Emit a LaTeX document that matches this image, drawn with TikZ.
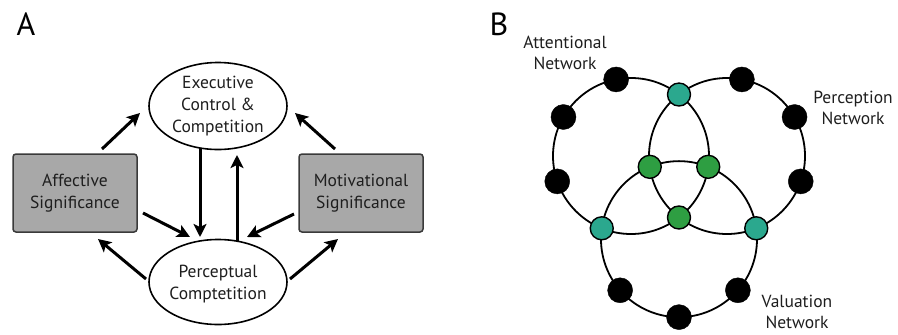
\documentclass[tikz,border=0pt]{standalone}
\usepackage{fontspec}
\setmainfont{PT Sans}
\usetikzlibrary{arrows.meta,calc,shapes.geometric}
\definecolor{boxgray}{HTML}{A8A8A8}
\definecolor{boxline}{HTML}{3A3A3A}
\definecolor{tealdot}{HTML}{2BA88E}
\definecolor{greendot}{HTML}{2E9E42}
\definecolor{txt}{HTML}{1E1E1E}
\tikzset{
  lbl/.style={align=center,font=\fontsize{17.5}{22}\selectfont,inner sep=0pt,text=txt},
  ell/.style={ellipse,draw,line width=1.6pt,fill=white,minimum width=138pt,inner sep=0pt},
  gbox/.style={draw=boxline,fill=boxgray,rounded corners=3pt,line width=1.5pt,minimum width=124pt,minimum height=78pt,inner sep=0pt,align=center,text=txt,font=\fontsize{17.5}{21.5}\selectfont},
  arr/.style={line width=3pt,-{Stealth[length=13pt,width=13pt,inset=3pt]}},
  ring/.style={line width=1.8pt},
  bdot/.style={circle,fill=black,draw=black,minimum size=25pt,inner sep=0pt},
  tdot/.style={circle,fill=tealdot,draw=black,line width=1.4pt,minimum size=23pt,inner sep=0pt},
  gdot/.style={circle,fill=greendot,draw=black,line width=1.4pt,minimum size=23pt,inner sep=0pt},
  panel/.style={font=\fontsize{32}{32}\selectfont,inner sep=0pt}
}
\begin{document}
\begin{tikzpicture}[x=1pt,y=-1pt]
\useasboundingbox (0,0) rectangle (898,335);
% ---------- Panel A ----------
\node[panel] (labA) at (26,24) {A};
\node[ell,minimum height=87pt] (exec) at (218,106) {};
\node[lbl] (exectxt) at (218,106) {Executive\\Control \&\\Competition};
\node[ell,minimum height=85pt] (perc) at (218,282) {};
\node[lbl] (perctxt) at (218,284) {Perceptual\\Comptetition};
\node[gbox] (aff) at (75,193) {Affective\\Significance};
\node[gbox] (mot) at (361,193) {Motivational\\Significance};
\coordinate (a1s) at (102,149); \coordinate (a1e) at (140,113);
\coordinate (a2s) at (335,149); \coordinate (a2e) at (295,113);
\coordinate (a3s) at (200,148); \coordinate (a3e) at (200,237);
\coordinate (a4s) at (237,242); \coordinate (a4e) at (237,155);
\coordinate (a5s) at (143,213); \coordinate (a5e) at (190,237);
\coordinate (a6s) at (294,214); \coordinate (a6e) at (247,237);
\coordinate (a7s) at (146,279); \coordinate (a7e) at (98,239);
\coordinate (a8s) at (290,279); \coordinate (a8e) at (338,239);
\foreach \i in {1,...,8} {\draw[arr] (a\i s) -- (a\i e);}
% ---------- Panel B ----------
\node[panel] (labB) at (499,24) {B};
\coordinate (cA) at (631,156);
\coordinate (cP) at (727,156);
\coordinate (cV) at (679,239.14);
\draw[ring] (cA) circle[radius=78];
\draw[ring] (cP) circle[radius=78];
\draw[ring] (cV) circle[radius=78];
% outer intersections (teal)
\node[tdot] (tAP) at ($(cA)+(-52.03:78)$) {};
\node[tdot] (tAV) at ($(cA)+(-247.97:78)$) {};
\node[tdot] (tPV) at ($(cP)+(67.97:78)$) {};
% inner intersections (green)
\node[gdot] (gAP) at ($(cA)+(52.03:78)$) {};
\node[gdot] (gAV) at ($(cA)+(7.97:78)$) {};
\node[gdot] (gPV) at ($(cP)+(172.03:78)$) {};
% black dots
\foreach \a [count=\k] in {101,150,199} {\node[bdot] (bA\k) at ($(cA)+(-\a:78)$) {};}
\foreach \a [count=\k] in {79,30,-19} {\node[bdot] (bP\k) at ($(cP)+(-\a:78)$) {};}
\foreach \a [count=\k] in {221,270,319} {\node[bdot] (bV\k) at ($(cV)+(-\a:78)$) {};}
\node[lbl,font=\fontsize{17.5}{21}\selectfont] (attn) at (565,53) {Attentional\\Network};
\node[lbl,font=\fontsize{17.5}{21}\selectfont] (perl) at (853,108) {Perception\\Network};
\node[lbl,font=\fontsize{17.5}{21}\selectfont] (vall) at (797,312) {Valuation\\Network};
\end{tikzpicture}
\end{document}
